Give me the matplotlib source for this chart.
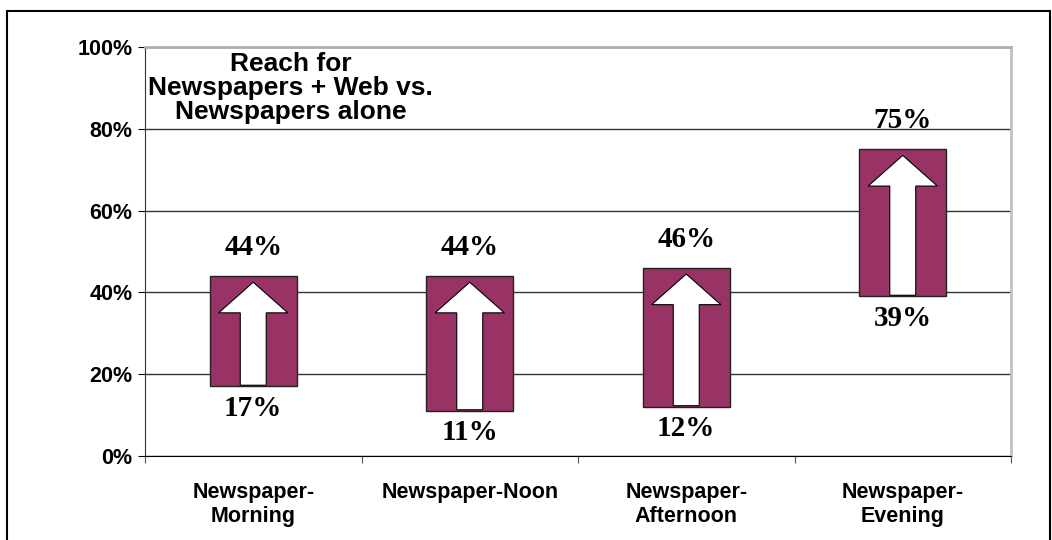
import numpy as np
import matplotlib
matplotlib.use('Agg')
import matplotlib.pyplot as plt
from matplotlib.patches import FancyArrow, Rectangle

plt.rcParams.update({
    'font.family': 'sans-serif',
    'font.sans-serif': ['Liberation Sans', 'DejaVu Sans'],
    'font.weight': 'bold',
})

# data
categories = ['Newspaper-\nMorning', 'Newspaper-Noon', 'Newspaper-\nAfternoon', 'Newspaper-\nEvening']
paper_only = [17, 11, 12, 39]        # newspapers alone
paper_web = [44, 44, 46, 75]         # newspapers + web
y_ticks = [0, 20, 40, 60, 80, 100]
title_text = 'Reach for\nNewspapers + Web vs.\nNewspapers alone'

bar_color = '#993366'

fig = plt.figure(figsize=(10.52, 5.40), dpi=100)
ax = fig.add_axes([145/1052, 1 - 456/540, 866/1052, 409/540])

x = np.arange(1, len(categories) + 1)
lo = np.array(paper_only)
hi = np.array(paper_web)

ax.bar(x, hi - lo, bottom=lo, width=0.4, color=bar_color, edgecolor='#222222',
       linewidth=1, zorder=3)

# white arrows inside the bars
for xi, a, b in zip(x, lo, hi):
    ar = FancyArrow(xi, a + 0.3, 0, (b - 1.5) - (a + 0.3), width=0.12,
                    head_width=0.32, head_length=7.5, length_includes_head=True,
                    facecolor='white', edgecolor='black', linewidth=0.8, zorder=4)
    ax.add_patch(ar)
    ax.annotate(f'{b}%', (xi, b), xytext=(0, 11), textcoords='offset points',
                ha='center', va='bottom', fontsize=21, fontweight='bold',
                family='Liberation Serif', zorder=5)
    ax.annotate(f'{a}%', (xi, a), xytext=(0, -6), textcoords='offset points',
                ha='center', va='top', fontsize=21, fontweight='bold',
                family='Liberation Serif', zorder=5)

ax.set_xlim(0.5, len(categories) + 0.5)
ax.set_ylim(0, 100)

# category boundaries as ticks, names in the middle
ax.set_xticks(np.arange(0.5, len(categories) + 1, 1))
ax.set_xticklabels([])
ax.set_xticks(x, minor=True)
ax.set_xticklabels(categories, minor=True, fontsize=15.5, fontweight='bold',
                   linespacing=1.15)
ax.tick_params(axis='x', which='major', direction='out', length=5, color='#555555')
ax.tick_params(axis='x', which='minor', length=0, pad=19)

ax.set_yticks(y_ticks)
ax.set_yticklabels([f'{v}%' for v in y_ticks], fontsize=15.5, fontweight='bold')
ax.tick_params(axis='y', direction='out', length=5, pad=4)

ax.yaxis.grid(True, color='#333333', linewidth=1, zorder=0)
ax.set_axisbelow(True)

ax.spines['top'].set_color('#b0b0b0')
ax.spines['top'].set_linewidth(2)
ax.spines['right'].set_color('#c0c0c0')
ax.spines['right'].set_linewidth(2)
ax.spines['left'].set_color('#333333')
ax.spines['bottom'].set_color('black')

ax.text(0.168, 0.988, title_text, transform=ax.transAxes, ha='center', va='top',
        fontsize=19, fontweight='bold', linespacing=1.0, zorder=6)

# frame round the whole chart
fig.patches.append(Rectangle((7/1052, -0.02), 1043/1052, 1.02 - 11/540,
                             transform=fig.transFigure, fill=False,
                             edgecolor='black', linewidth=1.5))

fig.savefig('out.png', dpi=100)
